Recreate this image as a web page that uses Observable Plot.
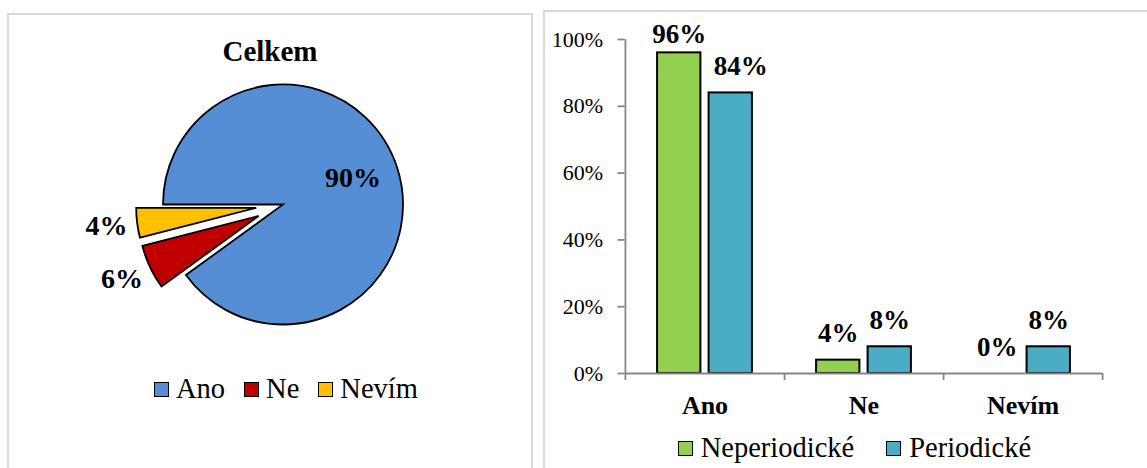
<!DOCTYPE html>
<html>
<head>
<meta charset="utf-8">
<script src="https://cdn.jsdelivr.net/npm/d3@7"></script>
<script src="https://cdn.jsdelivr.net/npm/@observablehq/plot@0.6"></script>
<style>
  html, body { margin: 0; padding: 0; background: #fff; }
  #page { position: relative; width: 1147px; height: 468px; overflow: hidden;
          font-family: "Liberation Serif", "Times New Roman", serif; color: #000; }
  .abs { position: absolute; }
  .panel { position: absolute; border: 2px solid #d9d9d9; box-sizing: border-box; pointer-events: none; }
  .title { position: absolute; text-align: center; font-weight: bold; font-size: 29px; line-height: 1; white-space: nowrap; }
  .legend { position: absolute; white-space: nowrap; line-height: 1; font-size: 28.5px; }
  .legend .item { display: inline-block; }
  .legend .sw { display: inline-block; width: 15px; height: 15px; border: 1.6px solid #000;
                box-sizing: border-box; vertical-align: baseline; margin-bottom: 1px; }
</style>
</head>
<body>
<div id="page"></div>
<script>
// ---------------- data ----------------
const pieTitle = "Celkem";
const pieLabels = ["Ano", "Ne", "Nevím"];
const pieValues = [0.90, 0.06, 0.04];
const pieColors = ["#558ED5", "#C00000", "#FFC000"];
const pieExploded = ["Ne", "Nevím"];

const barCategories = ["Ano", "Ne", "Nevím"];
const barSeries = ["Neperiodické", "Periodické"];
const neperiodicke = [0.96, 0.04, 0.00];
const periodicke = [0.84, 0.08, 0.08];
const barColors = ["#92D050", "#4BACC6"];
const yTicks = [0, 0.2, 0.4, 0.6, 0.8, 1.0];

const pct = d3.format(".0%");
const page = document.getElementById("page");
const FONT = "'Liberation Serif', 'Times New Roman', serif";

// ---------------- pie ----------------
const pieData = pieLabels.map((label, i) => ({label, value: pieValues[i]}));
const arcs = d3.pie().sort(null).value(d => d.value)
  .startAngle(1.5 * Math.PI).endAngle(3.5 * Math.PI)(pieData);
const EXPLODE = 0.225;
const mid = a => (a.startAngle + a.endAngle) / 2;

const pieLabelData = arcs.map(a => {
  const inside = a.data.value >= 0.5;
  const k = inside ? 0.61 : 1.47;
  return {x: k * Math.sin(mid(a)), y: k * Math.cos(mid(a)), text: pct(a.data.value), inside};
});

function pieMark(index, scales) {
  const sx = scales.x, sy = scales.y;
  const cx = sx(0), cy = sy(0), r = Math.abs(sx(1) - sx(0));
  const arc = d3.arc().innerRadius(0).outerRadius(r);
  const g = d3.create("svg:g");
  g.selectAll("path").data(arcs).join("path")
    .attr("d", arc)
    .attr("transform", a => {
      const o = pieExploded.includes(a.data.label) ? EXPLODE * r : 0;
      return `translate(${cx + o * Math.sin(mid(a))},${cy - o * Math.cos(mid(a))})`;
    })
    .attr("fill", a => pieColors[a.index])
    .attr("stroke", "#000")
    .attr("stroke-width", 1.8)
    .attr("stroke-linejoin", "miter")
    .attr("stroke-miterlimit", 4);
  return g.node();
}

const pieText = {x: "x", y: "y", text: "text", fontSize: 28, fontWeight: "bold", fill: "#000", textAnchor: "middle"};
const pie = Plot.plot({
  width: 540, height: 468, margin: 0,
  style: {fontFamily: FONT, background: "transparent", overflow: "visible"},
  x: {domain: [-1, 1], range: [163, 403], axis: null},
  y: {domain: [-1, 1], range: [324.5, 84.5], axis: null},
  marks: [
    pieMark,
    Plot.text(pieLabelData.filter(d => d.inside), {...pieText, dy: -4}),
    Plot.text(pieLabelData.filter(d => !d.inside), {...pieText, dx: -2, dy: -1})
  ]
});
pie.classList.add("abs");
pie.style.left = "0px"; pie.style.top = "0px";
page.appendChild(pie);

const title = document.createElement("div");
title.className = "title";
title.textContent = pieTitle;
Object.assign(title.style, {left: "7px", width: "526px", top: "37px"});
page.appendChild(title);

function makeLegend(labels, colors, left, top, swGap, itemGap) {
  const lg = document.createElement("div");
  lg.className = "legend";
  lg.style.left = left + "px"; lg.style.top = top + "px";
  labels.forEach((lab, i) => {
    const it = document.createElement("span");
    it.className = "item";
    if (i < labels.length - 1) it.style.marginRight = itemGap + "px";
    const sw = document.createElement("span");
    sw.className = "sw";
    sw.style.background = colors[i];
    sw.style.marginRight = swGap + "px";
    it.appendChild(sw);
    it.appendChild(document.createTextNode(lab));
    lg.appendChild(it);
  });
  page.appendChild(lg);
}
makeLegend(pieLabels, pieColors, 154, 375, 7, 19);

// ---------------- grouped bars ----------------
const rows = [];
barCategories.forEach((c, i) => {
  rows.push({cat: c, series: barSeries[0], value: neperiodicke[i]});
  rows.push({cat: c, series: barSeries[1], value: periodicke[i]});
});
const W = 602, H = 468, ML = 79.5, MR = 45, MT = 39, MB = 95;
const step = (W - ML - MR) / barCategories.length;
const barW = 43.5, gap = 8;
const outer = (step - 2 * barW - gap) / 2;
const off = (gap + barW) / 2;
const AX = "#868686";
const isFirst = d => d.series === barSeries[0];
const isSecond = d => d.series === barSeries[1];
const labelFont = {fontSize: 27, fontWeight: "bold", fill: "#000", lineAnchor: "bottom", text: d => pct(d.value)};
const crowded = d => d.cat === barCategories[0];

const bars = Plot.plot({
  width: W, height: H, marginLeft: ML, marginRight: MR, marginTop: MT, marginBottom: MB,
  style: {fontFamily: FONT, background: "transparent", overflow: "visible"},
  x: {type: "band", domain: barCategories, padding: 0, label: null},
  y: {domain: [0, 1], label: null},
  marks: [
    Plot.barY(rows.filter(isFirst), {x: "cat", y: "value", fill: barColors[0], stroke: "#000", strokeWidth: 2,
      insetLeft: outer, insetRight: step - outer - barW}),
    Plot.barY(rows.filter(isSecond), {x: "cat", y: "value", fill: barColors[1], stroke: "#000", strokeWidth: 2,
      insetLeft: outer + barW + gap, insetRight: outer}),
    Plot.ruleY([0], {stroke: AX, strokeWidth: 1.8}),
    Plot.ruleX([barCategories[0]], {y1: 0, y2: 1, dx: -step / 2, stroke: AX, strokeWidth: 1.8}),
    Plot.axisY({ticks: yTicks, tickFormat: pct, tickSize: 7, tickPadding: 15, stroke: AX, strokeWidth: 1.8,
      color: "#000", fontSize: 22, label: null}),
    Plot.axisX({ticks: barCategories, tickSize: 7, tickFormat: () => "", dx: step / 2, stroke: AX,
      strokeWidth: 1.8, label: null}),
    Plot.axisX({ticks: [barCategories[0]], tickSize: 7, tickFormat: () => "", dx: -step / 2, stroke: AX,
      strokeWidth: 1.8, label: null}),
    Plot.axisX({tickSize: 0, tickPadding: 22, fontSize: 26, fontWeight: "bold", color: "#000", label: null}),
    Plot.text(rows.filter(d => isFirst(d) && !crowded(d)), {x: "cat", y: "value", dx: -off, dy: -18, ...labelFont}),
    Plot.text(rows.filter(d => isFirst(d) && crowded(d)), {x: "cat", y: "value", dx: -off, dy: -10, ...labelFont}),
    Plot.text(rows.filter(d => isSecond(d) && !crowded(d)), {x: "cat", y: "value", dx: off, dy: -18, ...labelFont}),
    Plot.text(rows.filter(d => isSecond(d) && crowded(d)), {x: "cat", y: "value", dx: off + 10, dy: -18, ...labelFont})
  ]
});
bars.classList.add("abs");
bars.style.left = "545px"; bars.style.top = "0px";
page.appendChild(bars);

makeLegend(barSeries, barColors, 677.7, 433.5, 8, 32);

// ---------------- panel borders ----------------
const p1 = document.createElement("div");
p1.className = "panel";
Object.assign(p1.style, {left: "7px", top: "13px", width: "526px", height: "520px"});
page.appendChild(p1);
const p2 = document.createElement("div");
p2.className = "panel";
Object.assign(p2.style, {left: "543px", top: "10px", width: "640px", height: "520px"});
page.appendChild(p2);
</script>
</body>
</html>
